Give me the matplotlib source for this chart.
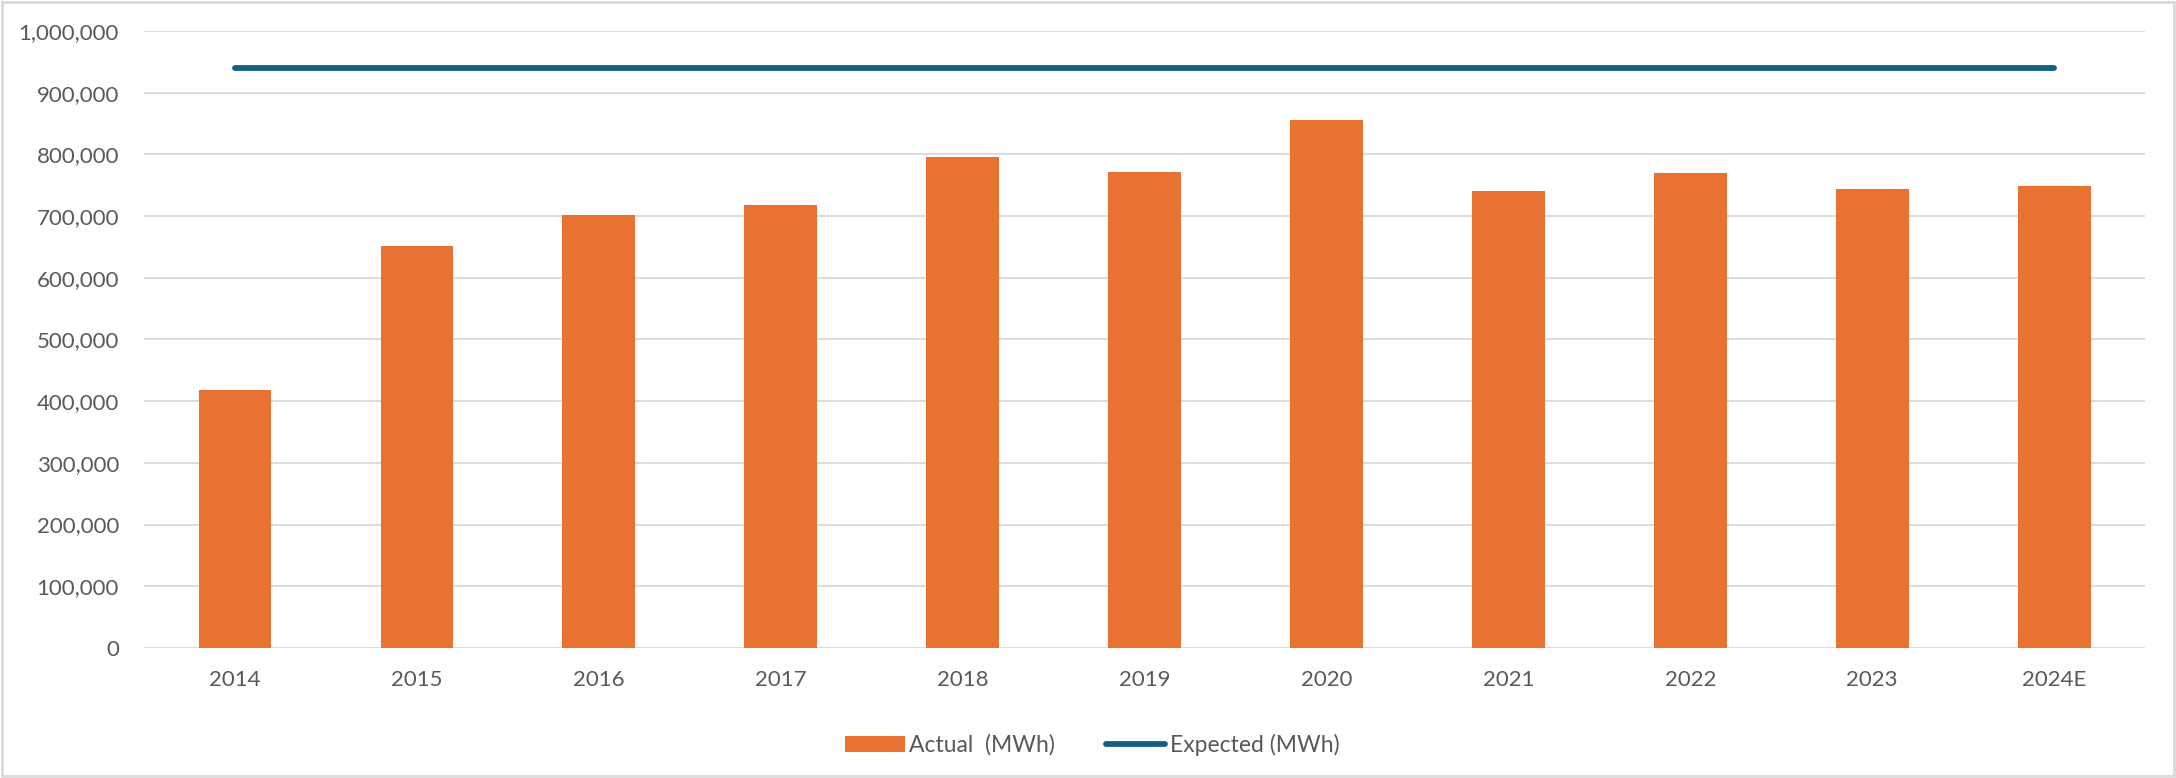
import matplotlib.pyplot as plt
from matplotlib.patches import Rectangle
from matplotlib.ticker import FuncFormatter

plt.rcParams['font.family'] = ['Lato', 'DejaVu Sans']

years = ['2014', '2015', '2016', '2017', '2018', '2019', '2020', '2021', '2022', '2023', '2024E']
actual = [418000, 651000, 702000, 718000, 796000, 772000, 856000, 740000, 769000, 744000, 749000]
expected = [940000] * len(years)

orange = '#E97132'
blue = '#156082'
grey_txt = '#595959'
grid_c = '#D9D9D9'

fig = plt.figure(figsize=(21.76, 7.78), dpi=100)
ax = fig.add_axes([0.0662, 0.1671, 0.9196, 0.7931])

x = range(len(years))
bars = ax.bar(x, actual, width=0.4, color=orange, label='Actual  (MWh)', zorder=3)
line, = ax.plot(x, expected, color=blue, lw=4.2, solid_capstyle='round', label='Expected (MWh)', zorder=4)

ax.set_xlim(-0.5, len(years) - 0.5)
ax.set_ylim(0, 1000000)
ax.set_yticks(range(0, 1000001, 100000))
ax.yaxis.set_major_formatter(FuncFormatter(lambda v, p: f'{int(v):,}'))
ax.set_xticks(list(x))
ax.set_xticklabels(years)
ax.grid(axis='y', color=grid_c, lw=1.3, zorder=0)
ax.set_axisbelow(True)
for s in ax.spines.values():
    s.set_visible(False)
ax.tick_params(axis='both', length=0, labelsize=16, labelcolor=grey_txt)
ax.tick_params(axis='y', pad=18)
ax.tick_params(axis='x', pad=16)

leg = fig.legend(handles=[bars, line], loc='center', bbox_to_anchor=(0.502, 0.043), ncol=2,
                 frameon=False, fontsize=16.5, handlelength=2.6, handleheight=0.7,
                 columnspacing=2.2, handletextpad=0.2)
for t in leg.get_texts():
    t.set_color(grey_txt)

# chart area border
fig.patches.append(Rectangle((0.001, 0.002), 0.998, 0.996, transform=fig.transFigure,
                             fill=False, edgecolor=grid_c, lw=2))

fig.savefig('out.png', dpi=100)
